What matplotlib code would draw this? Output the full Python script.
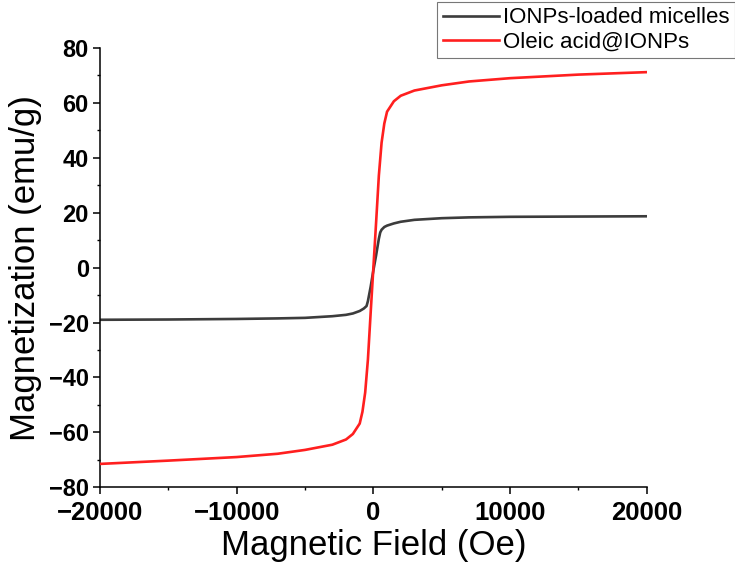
import numpy as np
import matplotlib
matplotlib.use("Agg")
import matplotlib.pyplot as plt
from matplotlib.ticker import MultipleLocator

# VSM data (field in Oe, magnetization in emu/g)
field_micelles = [-20000, -15000, -10000, -7000, -5000, -3000, -2000, -1500, -1000,
                  -700, -500, -400, -200, 0, 200, 400, 500, 600, 800, 1000, 1500,
                  2000, 3000, 5000, 7000, 10000, 15000, 20000]
mag_micelles = [-19.0, -18.9, -18.7, -18.5, -18.3, -17.7, -17.2, -16.7, -15.8,
                -14.9, -14.0, -12.2, -7.0, -1.0, 4.5, 10.5, 12.8, 13.8, 14.8, 15.3, 16.1,
                16.7, 17.4, 18.0, 18.3, 18.5, 18.6, 18.7]

field_oleic = [-20000, -15000, -10000, -7000, -5000, -3000, -2000, -1500, -1000,
               -800, -600, -400, -200, 0, 200, 400, 600, 800, 1000, 1500, 2000,
               3000, 5000, 7000, 10000, 15000, 20000]
mag_oleic = [-71.5, -70.3, -69.0, -67.8, -66.4, -64.5, -62.6, -60.6, -56.8,
             -52.5, -45.5, -33.5, -16.5, 0.0, 16.5, 33.5, 45.5, 52.5, 56.8, 60.6, 62.6,
             64.5, 66.4, 67.8, 69.0, 70.3, 71.2]

labels = ["IONPs-loaded micelles", "Oleic acid@IONPs"]
colors = ["#3c3c3c", "#ff1f1f"]

plt.rcParams['font.family'] = ['Liberation Sans', 'DejaVu Sans']

fig = plt.figure(figsize=(7.35, 5.78), dpi=100)
ax = fig.add_axes([0.136, 0.157, 0.744, 0.76])

ax.plot(field_micelles, mag_micelles, color=colors[0], lw=1.9, label=labels[0], zorder=2)
ax.plot(field_oleic, mag_oleic, color=colors[1], lw=1.9, label=labels[1], zorder=3)

ax.set_xlim(-20000, 20000)
ax.set_ylim(-80, 80)
ax.xaxis.set_major_locator(MultipleLocator(10000))
ax.xaxis.set_minor_locator(MultipleLocator(5000))
ax.yaxis.set_major_locator(MultipleLocator(20))
ax.yaxis.set_minor_locator(MultipleLocator(10))

# Origin-like look: only left/bottom spines, outward ticks
ax.spines['top'].set_visible(False)
ax.spines['right'].set_visible(False)
for s in ['left', 'bottom']:
    ax.spines[s].set_linewidth(1.1)
ax.tick_params(which='major', direction='out', length=5, width=1.1)
ax.tick_params(which='minor', direction='out', length=2.5, width=1.0)
ax.tick_params(axis='x', which='major', labelsize=18.5, pad=5)
ax.tick_params(axis='y', which='major', labelsize=17, pad=3)
for t in ax.get_xticklabels() + ax.get_yticklabels():
    t.set_fontweight('bold')

ax.set_xlabel("Magnetic Field (Oe)", fontsize=25, labelpad=3)
ax.set_ylabel("Magnetization (emu/g)", fontsize=25, labelpad=5)

leg = fig.legend(loc='upper right', bbox_to_anchor=(1.0, 0.997), fontsize=16,
                 frameon=True, fancybox=False, edgecolor='#555555',
                 handlelength=2.5, handletextpad=0.2, labelspacing=0.15,
                 borderpad=0.25, borderaxespad=0)
leg.get_frame().set_linewidth(0.8)

fig.savefig("out.png", dpi=100)
